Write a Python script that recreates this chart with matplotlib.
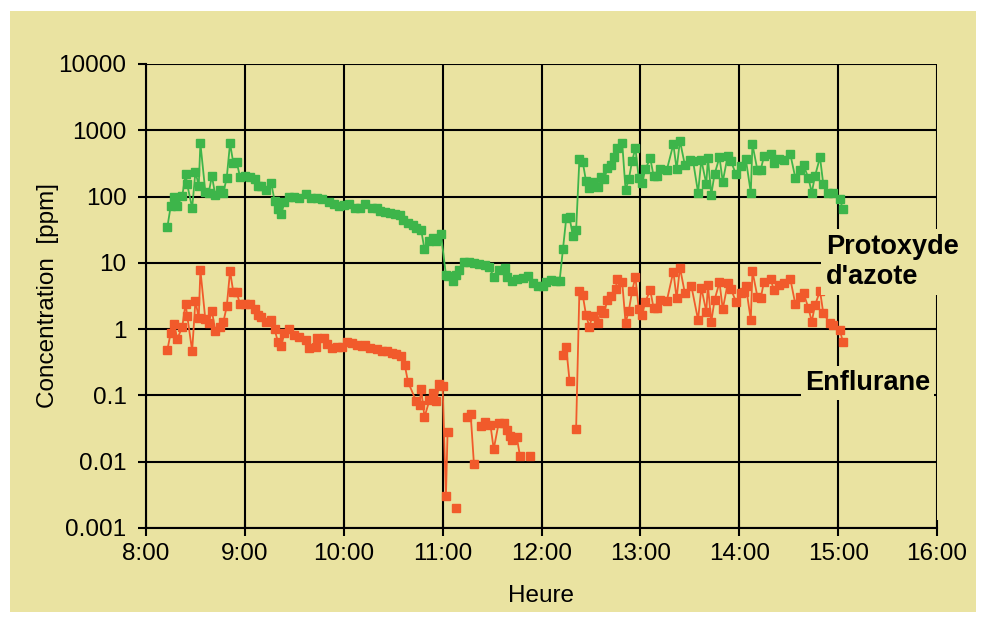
import numpy as np
import matplotlib
matplotlib.use("Agg")
import matplotlib.pyplot as plt
from matplotlib.patches import Rectangle
from matplotlib.ticker import NullLocator, FixedLocator, FixedFormatter

# ---- data: minutes after 8:00, concentration in ppm ----
n2o_min = [13, 15, 17, 19, 22, 24, 25, 28, 30, 32, 33, 36, 38, 40, 42, 45, 47, 49, 51, 53,
           55, 57, 60, 63, 66, 68, 70, 73, 76, 78, 80, 82, 84, 87, 90, 93, 97, 100, 104, 107,
           111, 114, 117, 120, 123, 127, 130, 133, 137, 140, 142, 145, 148, 151, 154, 156, 159, 162, 164, 167,
           169, 172, 174, 176, 179, 182, 183, 186, 188, 190, 193, 196, 199, 202, 206, 208, 211, 214, 218, 219,
           222, 225, 229, 232, 235, 238, 241, 243, 246, 249, 251, 253, 255, 257, 259, 261, 263, 265, 267, 269,
           271, 274, 276, 278, 280, 282, 284, 286, 289, 291, 293, 295, 297, 299, 301, 303, 306, 308, 310, 312,
           316, 320, 322, 324, 327, 330, 332, 335, 337, 340, 341, 343, 345, 348, 350, 353, 355, 358, 361, 364,
           367, 368, 371, 373, 375, 379, 381, 384, 387, 391, 394, 397, 399, 402, 404, 406, 409, 411, 414, 417,
           421, 423]
n2o_ppm = [35, 72, 100, 72, 102, 217, 153, 67, 238, 145, 637, 119, 112, 205, 106, 126, 115, 193, 637, 318,
           336, 200, 205, 200, 182, 145, 142, 126, 159, 87, 64, 54, 82, 97, 97, 94, 108, 96, 94, 91,
           84, 77, 71, 75, 77, 67, 67, 77, 67, 67, 61, 59, 57, 54, 53, 44, 40, 37, 34, 31,
           16, 21, 23.5, 21, 27, 6.6, 6.3, 5.4, 6.6, 7.8, 10.4, 10.4, 9.9, 9.6, 9.3, 8.8, 6.2, 7.8, 8.3, 6.2,
           5.4, 5.7, 5.9, 6.3, 5.0, 4.4, 4.4, 5.2, 5.5, 5.4, 5.4, 16, 47, 49, 25.5, 31, 365, 336, 172, 133,
           168, 138, 200, 182, 267, 300, 392, 535, 637, 126, 182, 348, 535, 189, 159, 258, 378, 205, 205, 258,
           250, 615, 260, 697, 300, 357, 340, 115, 357, 155, 386, 106, 217, 392, 168, 414, 340, 217, 290, 365,
           115, 615, 252, 252, 405, 435, 318, 365, 357, 435, 193, 252, 300, 189, 115, 205, 392, 153, 112, 114,
           91, 64]

nan = float("nan")
enf_min = [13, 15, 17, 19, 22, 24, 25, 28, 30, 32, 33, 36, 38, 40, 42, 45, 47, 49, 51, 53,
           55, 57, 60, 63, 66, 68, 70, 73, 76, 78, 80, 82, 84, 87, 90, 93, 97, 99, 103, 104,
           108, 110, 113, 116, 119, 122, 125, 128, 131, 133, 136, 140, 143, 146, 149, 152, 155, 157, 159, 164,
           166, 167, 169, 172, 174, 176, 178, 180, 182, 183, 185, 188, 191, 195, 197, 199, 201, 203, 206, 209,
           211, 214, 217, 219, 221, 222, 225, 227, 230, 233, 243, 253, 255, 257, 259, 261, 263, 265, 267, 269,
           271, 274, 276, 278, 280, 282, 285, 286, 289, 291, 293, 295, 297, 299, 301, 303, 306, 308, 310, 312,
           316, 320, 322, 324, 327, 331, 335, 337, 340, 341, 343, 345, 348, 350, 353, 355, 358, 361, 363, 364,
           367, 368, 371, 373, 375, 379, 381, 384, 387, 391, 394, 397, 399, 402, 404, 406, 409, 411, 415, 417,
           421, 423]
enf_ppm = [0.49, 0.885, 1.2, 0.71, 1.09, 2.4, 1.6, 0.47, 2.7, 1.46, 7.8, 1.41, 1.23, 1.9, 0.95, 1.09, 1.30, 2.2, 7.5, 3.6,
           3.6, 2.4, 2.4, 2.4, 2.0, 1.64, 1.55, 1.30, 1.38, 1.0, 0.65, 0.56, 0.87, 1.0, 0.82, 0.77, 0.69, 0.515, 0.545, 0.73,
           0.745, 0.59, 0.515, 0.545, 0.545, 0.65, 0.625, 0.58, 0.56, 0.58, 0.515, 0.50, 0.47, 0.46, 0.44, 0.42, 0.40, 0.29, 0.16, 0.081,
           0.072, 0.124, 0.047, 0.085, 0.11, 0.081, 0.148, 0.14, 0.003, 0.028, nan, 0.002, nan, 0.048, 0.053, 0.0092, nan, 0.035, 0.040, 0.036,
           0.0155, 0.038, 0.038, 0.030, 0.0245, 0.0213, 0.0234, 0.012, nan, 0.012, nan, 0.41, 0.53, 0.167, nan, 0.031, 3.8, 3.3, 1.64, 1.09,
           1.6, 1.25, 1.95, 1.78, 2.75, 3.2, 4.1, 5.7, 5.1, 1.25, 1.9, 3.8, 6.1, 2.0, 1.64, 2.6, 3.9, 2.07, 2.07, 2.75,
           2.65, 7.4, 2.9, 8.5, 3.5, 4.4, 1.38, 4.2, 1.84, 4.6, 1.27, 2.75, 5.1, 2.0, 4.9, 4.0, 2.6, 3.5, 3.6, 4.5,
           1.38, 7.5, 3.1, 2.9, 5.2, 5.7, 3.9, 4.6, 4.9, 5.7, 2.4, 3.1, 3.5, 2.07, 1.30, 2.3, 3.8, 1.74, 1.23, 1.16,
           0.97, 0.63]

x_ticks = [8, 9, 10, 11, 12, 13, 14, 15, 16]
x_labels = ["8:00", "9:00", "10:00", "11:00", "12:00", "13:00", "14:00", "15:00", "16:00"]
y_ticks = [0.001, 0.01, 0.1, 1, 10, 100, 1000, 10000]
y_labels = ["0.001", "0.01", "0.1", "1", "10", "100", "1000", "10000"]

BG = "#EAE3A1"
GREEN = "#3DB54A"
ORANGE = "#F15A2B"

plt.rcParams["font.family"] = ["Liberation Sans", "DejaVu Sans"]

fig = plt.figure(figsize=(9.87, 6.23), dpi=100)
fig.patch.set_facecolor("white")
fig.patches.append(Rectangle((10 / 987, 11 / 623), 966 / 987, 601 / 623,
                             transform=fig.transFigure, facecolor=BG,
                             edgecolor="none", zorder=-10))

ax = fig.add_axes([146 / 987, 95 / 623, 791 / 987, 464 / 623])
ax.set_facecolor(BG)

t_n2o = 8 + np.array(n2o_min) / 60.0
t_enf = 8 + np.array(enf_min) / 60.0

ax.plot(t_n2o, n2o_ppm, color=GREEN, lw=1.3, marker="s", ms=6.3, mec=GREEN, mfc=GREEN, zorder=3)
ax.plot(t_enf, enf_ppm, color=ORANGE, lw=1.3, marker="s", ms=6.3, mec=ORANGE, mfc=ORANGE, zorder=3)

ax.set_yscale("log")
ax.set_xlim(8, 16)
ax.set_ylim(0.001, 10000)
ax.xaxis.set_major_locator(FixedLocator(x_ticks))
ax.xaxis.set_major_formatter(FixedFormatter(x_labels))
ax.yaxis.set_major_locator(FixedLocator(y_ticks))
ax.yaxis.set_major_formatter(FixedFormatter(y_labels))
ax.yaxis.set_minor_locator(NullLocator())
ax.xaxis.set_minor_locator(NullLocator())

ax.grid(True, color="black", lw=1.5)
ax.set_axisbelow(True)
for s in ax.spines.values():
    s.set_color("black")
    s.set_linewidth(1.5)
ax.spines["top"].set_visible(False)
ax.spines["right"].set_visible(False)

ax.tick_params(axis="y", direction="out", length=6, width=1.5, pad=8, labelsize=17.5)
ax.tick_params(axis="x", direction="inout", length=12, width=1.5, pad=5, labelsize=17.5)

ax.set_xlabel("Heure", fontsize=17.5, labelpad=14)
ax.set_ylabel("Concentration  [ppm]", fontsize=17.5, labelpad=0)

ax.text((826 - 146) / 791, (528 - 262) / 464, "Protoxyde\nd'azote", transform=ax.transAxes,
        fontsize=19.5, fontweight="bold", ha="left", va="center", linespacing=1.2,
        bbox=dict(boxstyle="square,pad=0.2", facecolor=BG, edgecolor="none"),
        zorder=6, clip_on=False)
ax.text((805 - 146) / 791, (528 - 383) / 464, "Enflurane", transform=ax.transAxes,
        fontsize=19.5, fontweight="bold", ha="left", va="center",
        bbox=dict(boxstyle="square,pad=0.15", facecolor=BG, edgecolor="none"),
        zorder=6, clip_on=False)

fig.savefig("out.png", dpi=100, facecolor=fig.get_facecolor())
